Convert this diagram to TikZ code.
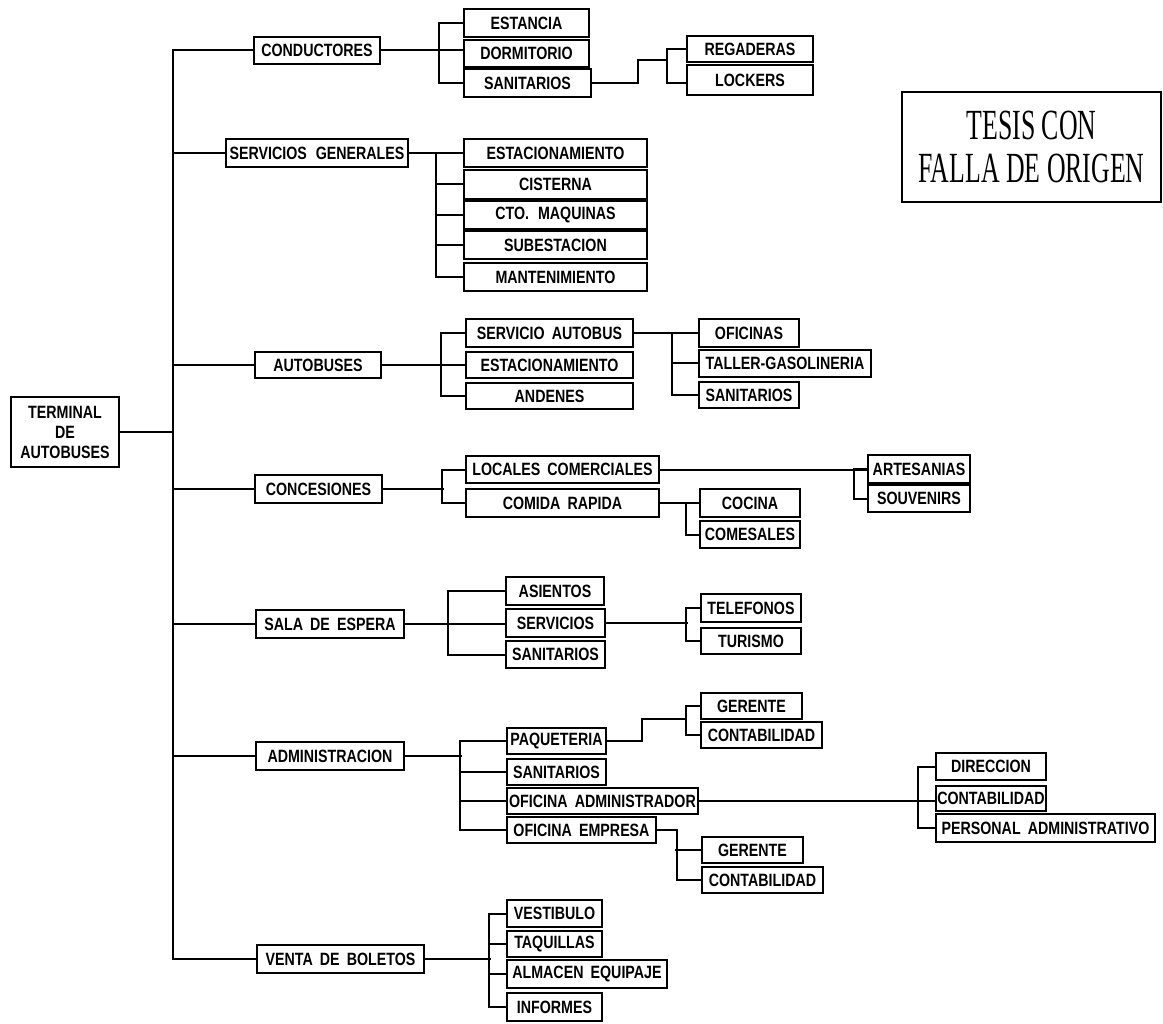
\documentclass[tikz,border=0pt]{standalone}
\usepackage{fontspec}
\newfontfamily\bxfont{Liberation Sans}[FakeStretch=0.8]
\newfontfamily\stampfont{Liberation Serif}[FakeStretch=0.6]
\tikzset{
  bx/.style={draw, line width=1.7pt, inner sep=0pt, align=center,
    font=\bxfont\bfseries\fontsize{17.8}{20}\selectfont},
  ln/.style={line width=2pt},
}
\newcommand\bx[6]{\node[bx, minimum width={(#4-#2)*1pt}, minimum height={(#5-#3)*1pt}] (#1) at ({(#2+#4)/2},{(#3+#5)/2}) {#6};}
\begin{document}
\begin{tikzpicture}[x=1pt,y=-1pt]
\useasboundingbox (0,0) rectangle (1163,1024);
% level 0
\bx{term}{11}{397}{119}{467}{TERMINAL\\DE\\AUTOBUSES}
% level 1
\bx{cond}{254}{37}{380}{64}{CONDUCTORES}
\bx{sgen}{226}{139}{408}{167}{SERVICIOS\hspace{0.5em}GENERALES}
\bx{auto}{255}{352}{381}{378}{AUTOBUSES}
\bx{conc}{255}{475}{382}{503}{CONCESIONES}
\bx{sala}{256}{610}{404}{638}{SALA\hspace{0.4em}DE\hspace{0.4em}ESPERA}
\bx{admin}{256}{742}{404}{770}{ADMINISTRACION}
\bx{venta}{257}{945}{424}{973}{VENTA\hspace{0.4em}DE\hspace{0.4em}BOLETOS}
% conductores
\bx{estan}{464}{9}{589}{37}{ESTANCIA}
\bx{dorm}{464}{40}{589}{67}{DORMITORIO}
\bx{sanit1}{464}{69}{591}{97}{SANITARIOS}
\bx{regad}{687}{36}{813}{62}{REGADERAS}
\bx{lock}{687}{65}{813}{95}{LOCKERS}
% servicios generales
\bx{estac1}{464}{139}{647}{167}{ESTACIONAMIENTO}
\bx{cist}{464}{170}{647}{199}{CISTERNA}
\bx{cto}{464}{201}{647}{229}{CTO.\hspace{0.5em}MAQUINAS}
\bx{subest}{464}{231}{647}{259}{SUBESTACION}
\bx{mant}{464}{263}{647}{291}{MANTENIMIENTO}
% autobuses
\bx{servaut}{466}{319}{633}{347}{SERVICIO\hspace{0.4em}AUTOBUS}
\bx{estac2}{466}{352}{633}{378}{ESTACIONAMIENTO}
\bx{anden}{466}{383}{633}{409}{ANDENES}
\bx{ofic}{699}{319}{799}{347}{OFICINAS}
\bx{taller}{699}{350}{871}{377}{TALLER-GASOLINERIA}
\bx{sanit3}{699}{382}{799}{408}{SANITARIOS}
% concesiones
\bx{locales}{466}{456}{659}{483}{LOCALES\hspace{0.4em}COMERCIALES}
\bx{comida}{466}{489}{659}{517}{COMIDA\hspace{0.4em}RAPIDA}
\bx{artes}{868}{455}{970}{483}{ARTESANIAS}
\bx{souv}{868}{485}{970}{512}{SOUVENIRS}
\bx{cocina}{700}{489}{800}{517}{COCINA}
\bx{comes}{700}{521}{800}{548}{COMESALES}
% sala de espera
\bx{asien}{506}{577}{604}{605}{ASIENTOS}
\bx{servi}{506}{609}{605}{637}{SERVICIOS}
\bx{sanit4}{506}{641}{605}{668}{SANITARIOS}
\bx{telef}{701}{594}{801}{622}{TELEFONOS}
\bx{turis}{701}{628}{801}{654}{TURISMO}
% administracion
\bx{paq}{507}{728}{606}{754}{PAQUETERIA}
\bx{sanit5}{507}{759}{606}{785}{SANITARIOS}
\bx{ofadm}{507}{788}{698}{814}{OFICINA\hspace{0.4em}ADMINISTRADOR}
\bx{ofemp}{507}{817}{656}{843}{OFICINA\hspace{0.4em}EMPRESA}
\bx{ger1}{701}{693}{802}{719}{GERENTE}
\bx{cont1}{701}{722}{822}{748}{CONTABILIDAD}
\bx{direc}{936}{753}{1046}{780}{DIRECCION}
\bx{cont2}{936}{786}{1046}{811}{CONTABILIDAD}
\bx{pers}{936}{814}{1155}{842}{PERSONAL\hspace{0.4em}ADMINISTRATIVO}
\bx{ger2}{702}{837}{803}{863}{GERENTE}
\bx{cont3}{702}{867}{823}{893}{CONTABILIDAD}
% venta de boletos
\bx{vest}{507}{900}{602}{927}{VESTIBULO}
\bx{taq}{507}{931}{602}{957}{TAQUILLAS}
\bx{almac}{507}{960}{667}{988}{ALMACEN\hspace{0.4em}EQUIPAJE}
\bx{inf}{507}{993}{602}{1021}{INFORMES}
% stamp
\node[draw, line width=1.4pt, minimum width=259pt, minimum height=110pt, inner sep=0pt,
  align=center, font=\stampfont\fontsize{43}{43}\selectfont] (tesis) at (1031.5,147) {TESIS CON\\FALLA DE ORIGEN};

% trunk
\coordinate (tr) at (173,0);
\draw[ln] (cond.west) -| (tr |- venta.west) -- (venta.west);
\foreach \n in {sgen,auto,conc,sala,admin}{\draw[ln] (\n.west) -- (\n.west -| tr);}
\draw[ln] (term.east) -- (term.east -| tr);

% conductores
\draw[ln] (cond.east) -- (cond.east -| dorm.west);
\draw[ln] (estan.west) -- ++(-24,0) |- (sanit1.west);
\coordinate (j1) at (638,60);
\draw[ln] (sanit1.east) -| (j1) -- ++(30,0);
\draw[ln] (regad.west) -- ++(-19,0) |- (lock.west |- sanit1.east);

% servicios generales
\draw[ln] (sgen.east) -- (estac1.west);
\draw[ln] (estac1.west) -- ++(-27,0) |- (mant.west);
\foreach \n in {cist,cto,subest}{\draw[ln] (\n.west) -- ++(-27,0);}

% autobuses
\draw[ln] (auto.east) -- (estac2.west);
\draw[ln] (servaut.west) -- ++(-24,0) |- (anden.west);
\draw[ln] (servaut.east) -- (servaut.east -| ofic.west);
\draw[ln] (ofic.west) -- ++(-26,0) |- (sanit3.west);
\draw[ln] (taller.west) -- ++(-26,0);

% concesiones
\draw[ln] (conc.east) -- ++(61,0);
\draw[ln] (locales.west) -- ++(-23,0) |- (comida.west);
\draw[ln] (locales.east) -- (locales.east -| artes.west);
\draw[ln] (artes.west) -- ++(-13,0) |- (souv.west);
\draw[ln] (comida.east) -- (comida.east -| cocina.west);
\draw[ln] (cocina.west) -- ++(-13,0) |- (comes.west);

% sala de espera
\draw[ln] (sala.east) -- (sala.east -| servi.west);
\draw[ln] (asien.west) -- ++(-57,0) |- (sanit4.west);
\draw[ln] (servi.east) -- ++(82,0);
\draw[ln] (telef.west) -- ++(-14,0) |- (turis.west);

% administracion
\draw[ln] (admin.east) -- ++(57,0);
\draw[ln] (paq.west) -- ++(-46,0) |- (ofemp.west);
\foreach \n in {sanit5,ofadm}{\draw[ln] (\n.west) -- ++(-46,0);}
\coordinate (j2) at (642,719);
\draw[ln] (paq.east) -| (j2) -- ++(45,0);
\draw[ln] (ger1.west) -- ++(-14,0) |- (cont1.west);
\draw[ln] (ofadm.east) -- (ofadm.east -| cont2.west);
\draw[ln] (direc.west) -- ++(-17,0) |- (pers.west);
\draw[ln] (ofemp.east) -- ++(20,0) |- (cont3.west);
\draw[ln] (ger2.west) -- ++(-26,0);

% venta de boletos
\draw[ln] (venta.east) -- ++(66,0);
\draw[ln] (vest.west) -- ++(-17,0) |- (inf.west);
\foreach \n in {taq,almac}{\draw[ln] (\n.west) -- ++(-17,0);}
\end{tikzpicture}
\end{document}
